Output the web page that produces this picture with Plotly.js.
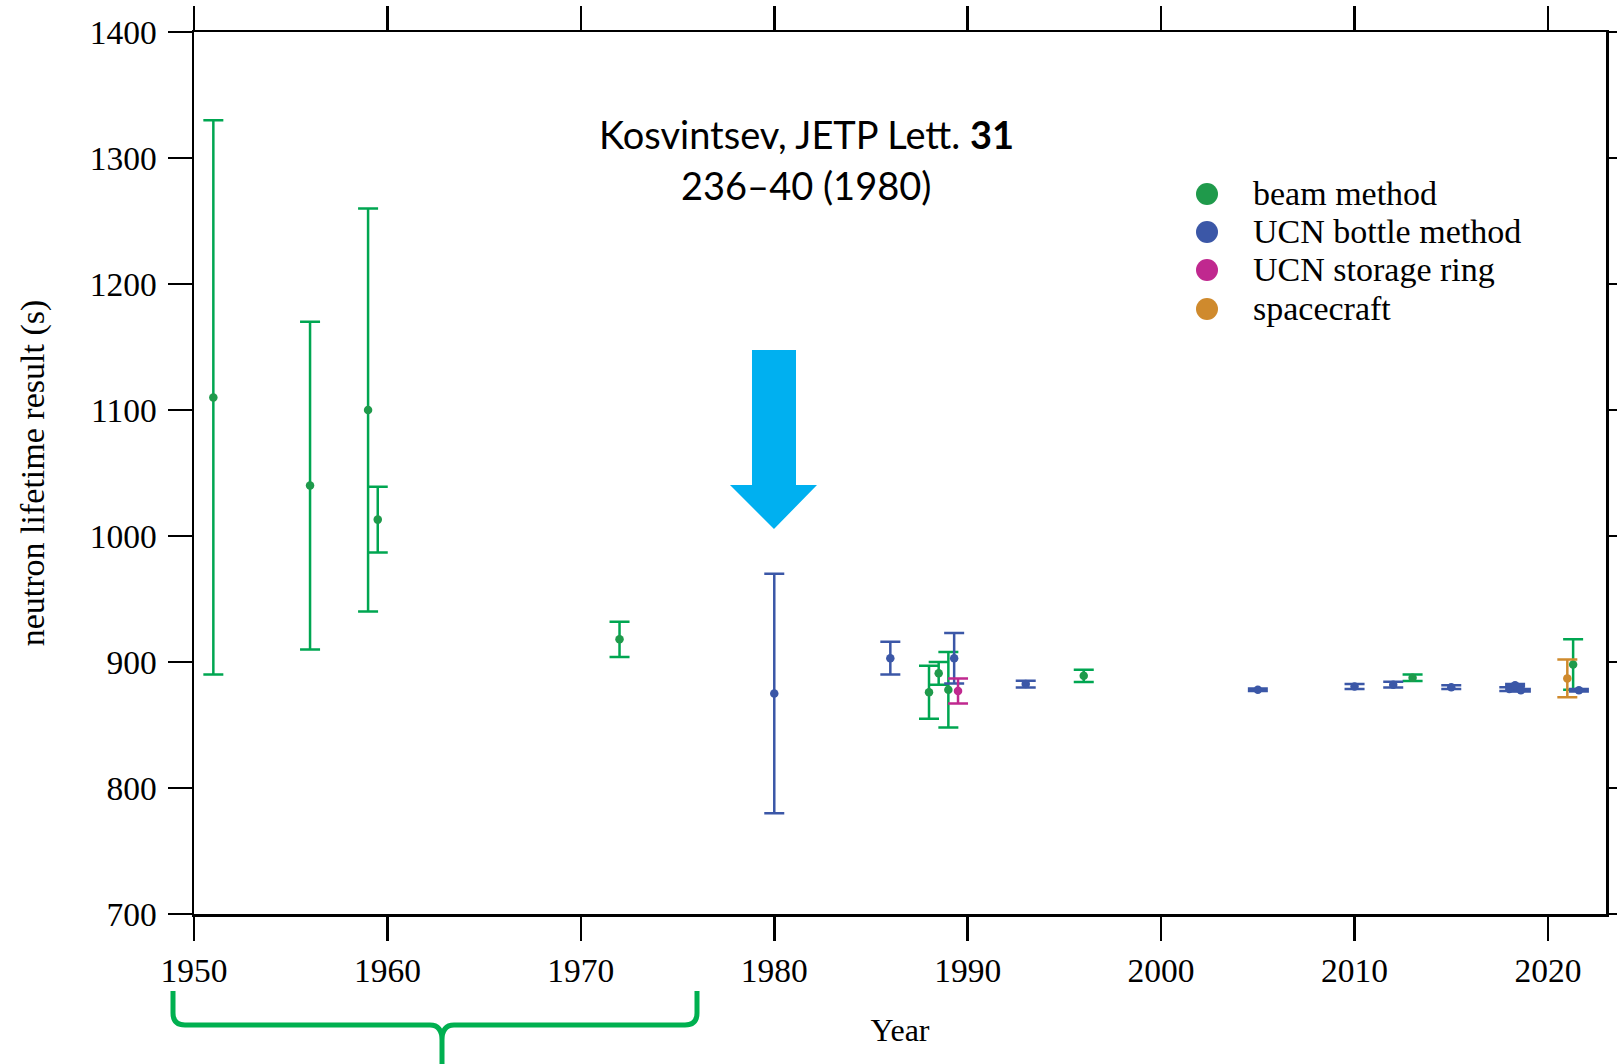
<!DOCTYPE html>
<html><head><meta charset="utf-8">
<script src="https://cdn.plot.ly/plotly-3.0.1.min.js"></script>
<style>html,body{margin:0;padding:0;background:#fff}#chart{width:1617px;height:1064px}</style>
</head><body><div id="chart"></div>
<script>
// ---- data ----
const beamYears  = [1951, 1956, 1959, 1959.5, 1972, 1988, 1988.5, 1989, 1996, 2013, 2021.3];
const beamValues = [1110, 1040, 1100, 1013, 918, 876, 891, 878, 889, 887.5, 898];
const beamErrors = [220, 130, 160, 26, 14, 21, 9, 30, 4.8, 2.5, 20];

const bottleYears  = [1980, 1986, 1989.3, 1993, 2005, 2010, 2012, 2015, 2018, 2018.3, 2018.6, 2021.6];
const bottleValues = [875, 903, 903, 882.5, 878, 880.5, 882, 880, 878.5, 881.5, 877.5, 877.5];
const bottleErrors = [95, 13, 20, 2.7, 1, 2, 2.3, 1.5, 1.5, 1, 1, 1];

const ringYears  = [1989.5];
const ringValues = [877];
const ringErrors = [10];

const craftYears  = [2021];
const craftValues = [887];
const craftErrors = [15];

const legendLabels = ['beam method', 'UCN bottle method', 'UCN storage ring', 'spacecraft'];
const xTickVals = [1950, 1960, 1970, 1980, 1990, 2000, 2010, 2020];
const yTickVals = [700, 800, 900, 1000, 1100, 1200, 1300, 1400];

// ---- styling ----
const markerColors = ['#1f9a4b', '#3b57a7', '#c0288f', '#cf8a2d'];
const barColors    = ['#00a651', '#3b57a7', '#c0288f', '#cf8a2d'];
const SERIF = 'Liberation Serif, Times New Roman, serif';

const W = 1617, H = 1064, M = {l: 194, r: 11, t: 32, b: 150};
const PW = W - M.l - M.r, PH = H - M.t - M.b;
const px = x => (x - M.l) / PW;
const py = y => (H - M.b - y) / PH;
const P = (x, y) => px(x).toFixed(5) + ',' + py(y).toFixed(5);

function series(name, x, y, e, i) {
  return {
    type: 'scatter', mode: 'markers', name: name, x: x, y: y, showlegend: false,
    marker: {color: markerColors[i], size: 8.5},
    error_y: {type: 'data', array: e, visible: true, color: barColors[i], thickness: 2.5, width: 10}
  };
}

const data = [
  series(legendLabels[0], beamYears, beamValues, beamErrors, 0),
  series(legendLabels[1], bottleYears, bottleValues, bottleErrors, 1),
  series(legendLabels[2], ringYears, ringValues, ringErrors, 2),
  series(legendLabels[3], craftYears, craftValues, craftErrors, 3)
];

// decorative shapes (paper coordinates derived from pixel positions)
const arrowPath = 'M' + P(752, 350) + ' L' + P(796, 350) + ' L' + P(796, 485) + ' L' + P(817, 485) +
  ' L' + P(774, 529) + ' L' + P(730, 485) + ' L' + P(752, 485) + ' Z';
const bracePath = 'M' + P(173, 991) + ' L' + P(173, 1013) + ' Q' + P(173, 1025) + ' ' + P(185, 1025) +
  ' L' + P(430, 1025) + ' Q' + P(442, 1025) + ' ' + P(442, 1040) + ' L' + P(442, 1066) +
  ' M' + P(442, 1040) + ' Q' + P(442, 1025) + ' ' + P(454, 1025) + ' L' + P(685, 1025) +
  ' Q' + P(697, 1025) + ' ' + P(697, 1013) + ' L' + P(697, 991);

const shapes = [
  {type: 'path', xref: 'paper', yref: 'paper', path: arrowPath, fillcolor: '#00b0f0', line: {width: 0}, layer: 'above'},
  {type: 'path', xref: 'paper', yref: 'paper', path: bracePath, line: {color: '#00b050', width: 5}, layer: 'above'}
];
const annotations = [
  {xref: 'paper', yref: 'paper', x: px(806), y: py(134), xanchor: 'center', yanchor: 'middle', showarrow: false,
   text: 'Kosvintsev, JETP Lett. <b>31</b>', font: {family: 'Lato, Noto Sans, sans-serif', size: 38, color: '#000'}},
  {xref: 'paper', yref: 'paper', x: px(806), y: py(185), xanchor: 'center', yanchor: 'middle', showarrow: false,
   text: '236–40 (1980)', font: {family: 'Lato, Noto Sans, sans-serif', size: 38, color: '#000'}}
];
const legendRowsY = [194, 232, 270, 309];
legendLabels.forEach((lab, i) => {
  shapes.push({type: 'circle', xref: 'paper', yref: 'paper', xsizemode: 'pixel', ysizemode: 'pixel',
    xanchor: px(1207), yanchor: py(legendRowsY[i]), x0: -11, x1: 11, y0: -11, y1: 11,
    fillcolor: markerColors[i], line: {width: 0}, layer: 'above'});
  annotations.push({xref: 'paper', yref: 'paper', x: px(1251), y: py(legendRowsY[i] - 1), xanchor: 'left', yanchor: 'middle',
    showarrow: false, text: lab, font: {family: SERIF, size: 34, color: '#000'}});
});

const axisCommon = {
  showgrid: false, zeroline: false, showline: true, linecolor: '#000', linewidth: 2.5,
  mirror: 'ticks', ticks: 'outside', ticklen: 24, tickwidth: 2.5, tickcolor: '#000',
  tickfont: {family: SERIF, size: 33.5, color: '#000'}
};

const layout = {
  width: W, height: H, margin: M, paper_bgcolor: '#fff', plot_bgcolor: '#fff',
  font: {family: SERIF, color: '#000'},
  showlegend: false,
  xaxis: Object.assign({}, axisCommon, {range: [1950, 2023], tickvals: xTickVals, ticklabelstandoff: 1,
    title: {text: 'Year', font: {family: SERIF, size: 32, color: '#000'}, standoff: 31}}),
  yaxis: Object.assign({}, axisCommon, {range: [700, 1400], tickvals: yTickVals, ticklabelstandoff: 4,
    title: {text: 'neutron lifetime result (s)', font: {family: SERIF, size: 34, color: '#000'}, standoff: 35}}),
  shapes: shapes, annotations: annotations
};

Plotly.newPlot('chart', data, layout, {staticPlot: true, displayModeBar: false});
</script></body></html>
